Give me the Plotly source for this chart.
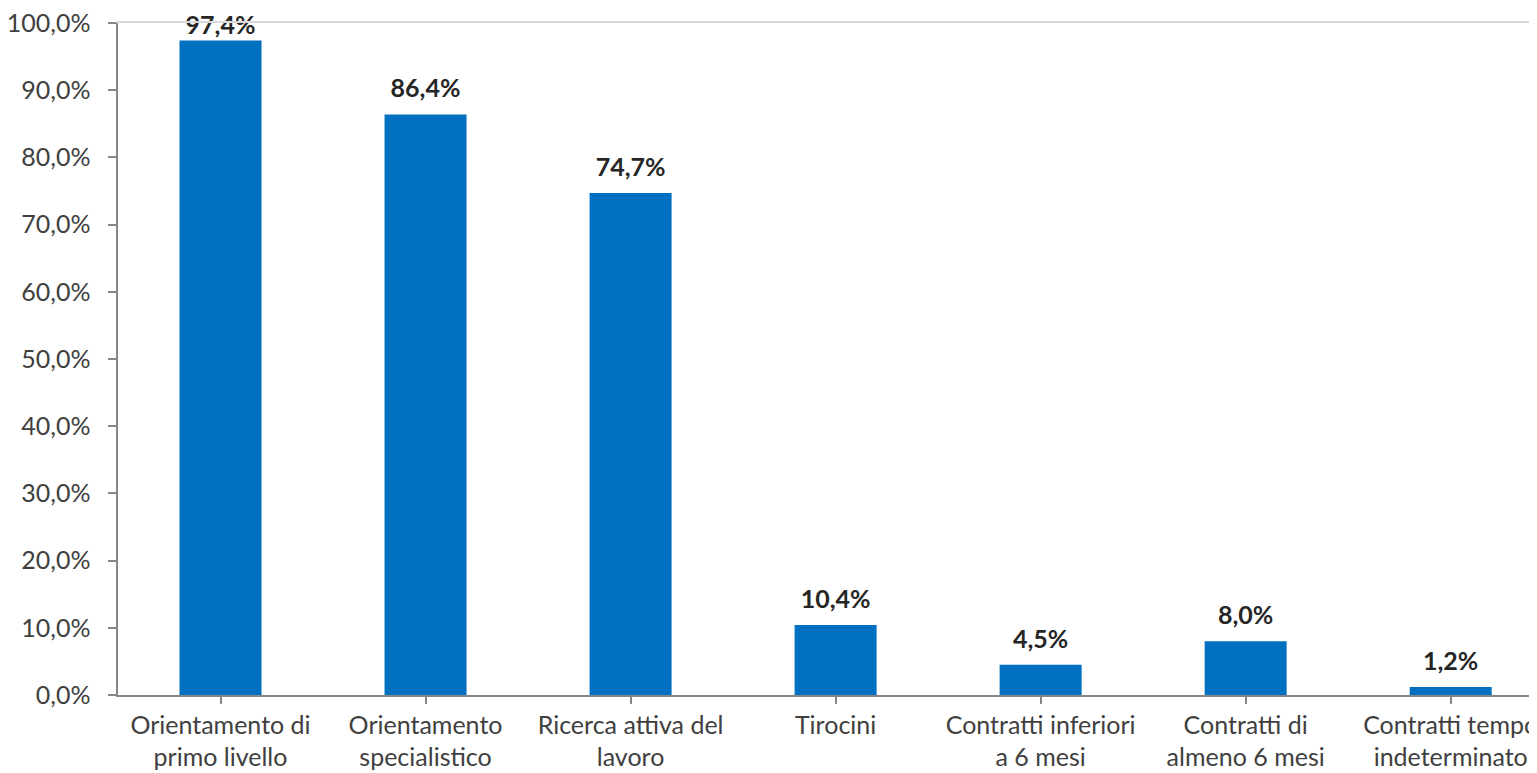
import plotly.graph_objects as go

categories = [
    "Orientamento di<br>primo livello",
    "Orientamento<br>specialistico",
    "Ricerca attiva del<br>lavoro",
    "Tirocini",
    "Contratti inferiori<br>a 6 mesi",
    "Contratti di<br>almeno 6 mesi",
    "Contratti tempo<br>indeterminato",
]
values = [97.4, 86.4, 74.7, 10.4, 4.5, 8.0, 1.2]
y_ticks = [0, 10, 20, 30, 40, 50, 60, 70, 80, 90, 100]
y_tick_labels = [f"{v:.1f}%".replace(".", ",") + "\u00a0\u00a0" for v in y_ticks]

FONT = "Lato, Open Sans, sans-serif"
xs = list(range(len(categories)))
# label offset above bar (first label squeezed under the top of the plot, as in the source)
label_gap = [0] + [16] * (len(values) - 1)

fig = go.Figure()
fig.add_trace(go.Bar(
    x=xs,
    y=values,
    width=0.4,
    marker=dict(color="#0070C0", line=dict(width=0)),
    showlegend=False,
    hoverinfo="skip",
))
fig.add_trace(go.Scatter(
    x=xs,
    y=values,
    xaxis="x2",
    mode="markers+text",
    marker=dict(size=label_gap, color="rgba(0,0,0,0)", line=dict(width=0)),
    texttemplate="<b>%{y:.1f}%</b>",
    textposition="top center",
    textfont=dict(family=FONT, size=25, color="#262626"),
    cliponaxis=False,
    showlegend=False,
    hoverinfo="skip",
))

fig.update_layout(
    width=1537, height=773,
    margin=dict(l=110, r=0, t=15, b=86, autoexpand=False),
    paper_bgcolor="white", plot_bgcolor="white",
    separators=",.",
    font=dict(family=FONT, size=25, color="#404040"),
    xaxis=dict(
        range=[-0.5, 6.46],
        tickmode="array",
        tickvals=xs,
        ticktext=categories,
        tickson="boundaries",
        ticks="outside", ticklen=7, tickcolor="#868686", tickwidth=1.5,
        showline=True, linecolor="#868686", linewidth=1.5,
        showgrid=False, zeroline=False,
        tickfont=dict(size=25, color="#404040"),
        automargin=False,
    ),
    xaxis2=dict(
        overlaying="x", side="top", matches="x",
        showline=True, linecolor="#D9D9D9", linewidth=1.5,
        showticklabels=False, ticks="", showgrid=False, zeroline=False,
    ),
    yaxis=dict(
        range=[0, 100],
        tickmode="array", tickvals=y_ticks, ticktext=y_tick_labels,
        ticks="outside", ticklen=8, tickcolor="#868686", tickwidth=1.5,
        showline=True, linecolor="#868686", linewidth=1.5,
        showgrid=False, zeroline=False,
        tickfont=dict(size=25, color="#404040"),
        ticklabeloverflow="allow",
        automargin=False,
    ),
)

fig.write_html("out.html")
